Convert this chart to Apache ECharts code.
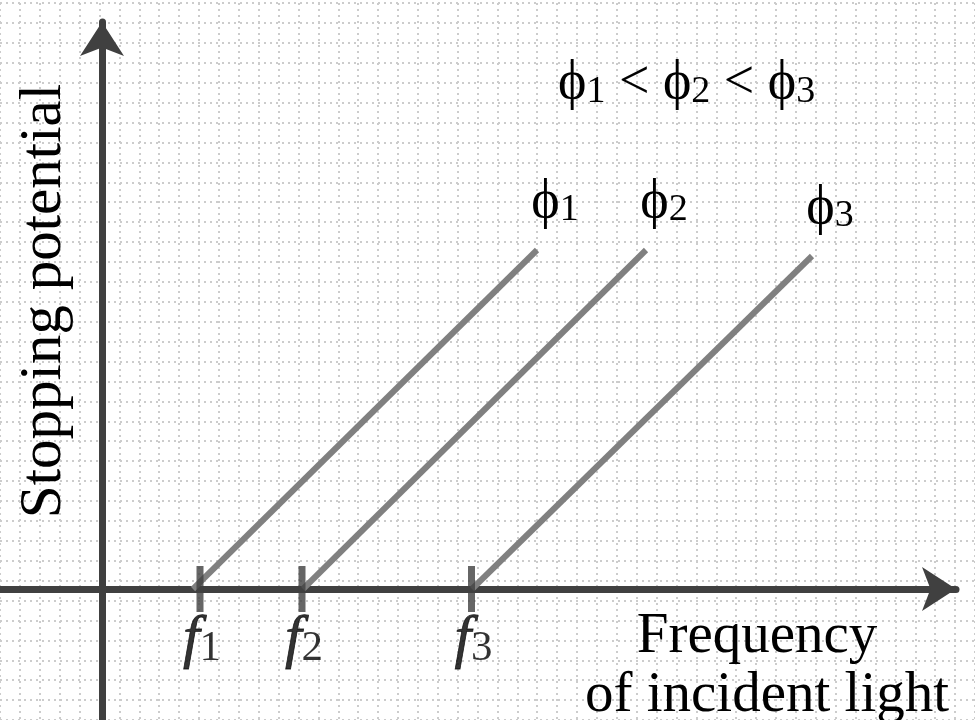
<!DOCTYPE html>
<html><head><meta charset="utf-8">
<script src="https://cdn.jsdelivr.net/npm/echarts@6/dist/echarts.min.js"></script>
<style>html,body{margin:0;padding:0;background:#fff}#c{width:975px;height:720px}</style>
</head><body><div id="c"></div>
<script>
// ---- data (arbitrary units) ----
const workFunctions = ['1', '2', '3'];          // subscripts of phi
const thresholdFreq = [4.9, 10.0, 18.475];      // f1, f2, f3 tick positions
const lineStartX = [4.55, 10.05, 18.5];         // where each line meets the axis
const lineEndX = [21.75, 27.2, 35.5];
const lineEndY = [16.95, 16.95, 16.65];
const tickLabels = ['1', '2', '3'];             // subscripts of f
const yAxisTitle = 'Stopping potential';
const xAxisTitle1 = 'Frequency';
const xAxisTitle2 = 'of incident light';
const PHI = '\u03d5';

const FONT = 'Liberation Serif';
const AXIS_COLOR = '#404040';
const LINE_COLOR = '#808080';
const TEXT_COLOR = '#000000';

const chart = echarts.init(document.getElementById('c'), null, {renderer: 'canvas'});

const lineSeries = workFunctions.map((w, i) => ({
  type: 'line',
  xAxisIndex: 0, yAxisIndex: 0,
  data: [[lineStartX[i], 0], [lineEndX[i], lineEndY[i]]],
  symbol: 'none',
  lineStyle: {color: LINE_COLOR, width: 6, cap: 'butt'},
  z: 3,
  silent: true
}));

const phiRich = {
  p: {fontFamily: FONT, fontSize: 54, lineHeight: 54, verticalAlign: 'top', color: TEXT_COLOR},
  s: {fontFamily: FONT, fontSize: 38, lineHeight: 38, padding: [26, 0, 0, 0], verticalAlign: 'bottom', color: TEXT_COLOR}
};

const phiLabelSeries = {
  type: 'scatter',
  xAxisIndex: 0, yAxisIndex: 0,
  data: workFunctions.map((w, i) => [lineEndX[i], lineEndY[i], w]),
  symbolSize: 1,
  itemStyle: {color: 'rgba(255,255,255,0)'},
  label: {
    show: true, position: 'top', distance: 4, offset: [18, -16],
    color: TEXT_COLOR, fontFamily: FONT, fontSize: 54, opacity: 1,
    formatter: p => '{p|' + PHI + '}{s|' + p.data[2] + '}',
    rich: phiRich
  },
  z: 5, silent: true
};

const tickSeries = {
  type: 'scatter',
  xAxisIndex: 0, yAxisIndex: 0,
  data: thresholdFreq.map((f, i) => [f, 0, tickLabels[i]]),
  symbol: 'rect',
  symbolSize: [7, 46],
  itemStyle: {color: AXIS_COLOR},
  label: {
    show: true, position: 'bottom', distance: 0, offset: [2, -2],
    color: TEXT_COLOR, fontFamily: FONT, fontSize: 58,
    formatter: p => '{f|f}{s|' + p.data[2] + '}',
    rich: {
      f: {fontFamily: FONT, fontStyle: 'italic', fontSize: 60, lineHeight: 60, verticalAlign: 'top', color: TEXT_COLOR,
        textBorderColor: TEXT_COLOR, textBorderWidth: 0.8},
      s: {fontFamily: FONT, fontSize: 43, lineHeight: 43, padding: [26, 0, 0, 0], verticalAlign: 'bottom', color: TEXT_COLOR}
    }
  },
  z: 6, silent: true
};

const axisCommon = {
  type: 'value',
  axisLine: {show: true, onZero: true, symbol: ['none', 'arrow'], symbolSize: [33, 34],
    lineStyle: {color: AXIS_COLOR, width: 7}},
  axisTick: {show: false}, axisLabel: {show: false}, splitLine: {show: false}
};

const bgAxis = {
  type: 'value',
  axisLine: {show: false}, axisTick: {show: false}, axisLabel: {show: false},
  splitLine: {show: true, lineStyle: {color: '#cccccc', width: 2, type: [2, 4]}},
  interval: 20
};

const option = {
  backgroundColor: '#ffffff',
  animation: false,
  grid: [
    {left: 0, right: 19, top: 22, bottom: 0},
    {left: 0, top: 3, width: 975, height: 720}
  ],
  xAxis: [
    Object.assign({}, axisCommon, {gridIndex: 0, min: -5.1, max: 42.7}),
    Object.assign({}, bgAxis, {gridIndex: 1, min: 0, max: 980})
  ],
  yAxis: [
    Object.assign({}, axisCommon, {gridIndex: 0, min: -6.55, max: 28.35}),
    Object.assign({}, bgAxis, {gridIndex: 1, min: 0, max: 720, inverse: true})
  ],
  series: [...lineSeries, tickSeries, phiLabelSeries],
  graphic: [
    {
      type: 'text', left: 558, top: 47, z: 10, silent: true,
      style: {
        text: '{p|' + PHI + '}{s|1}{p| < ' + PHI + '}{s|2}{p| < ' + PHI + '}{s|3}',
        rich: phiRich
      }
    },
    {
      type: 'text', x: 44, y: 301, rotation: Math.PI / 2, z: 10, silent: true,
      style: {text: yAxisTitle, fontFamily: FONT, fontSize: 59, fill: TEXT_COLOR,
        align: 'center', verticalAlign: 'middle'}
    },
    {
      type: 'text', x: 757, y: 637, z: 10, silent: true,
      style: {text: xAxisTitle1, fontFamily: FONT, fontSize: 57, fill: TEXT_COLOR,
        align: 'center', verticalAlign: 'middle'}
    },
    {
      type: 'text', x: 767, y: 696, z: 10, silent: true,
      style: {text: xAxisTitle2, fontFamily: FONT, fontSize: 57, fill: TEXT_COLOR,
        align: 'center', verticalAlign: 'middle'}
    }
  ]
};
chart.setOption(option);
</script>
</body></html>
